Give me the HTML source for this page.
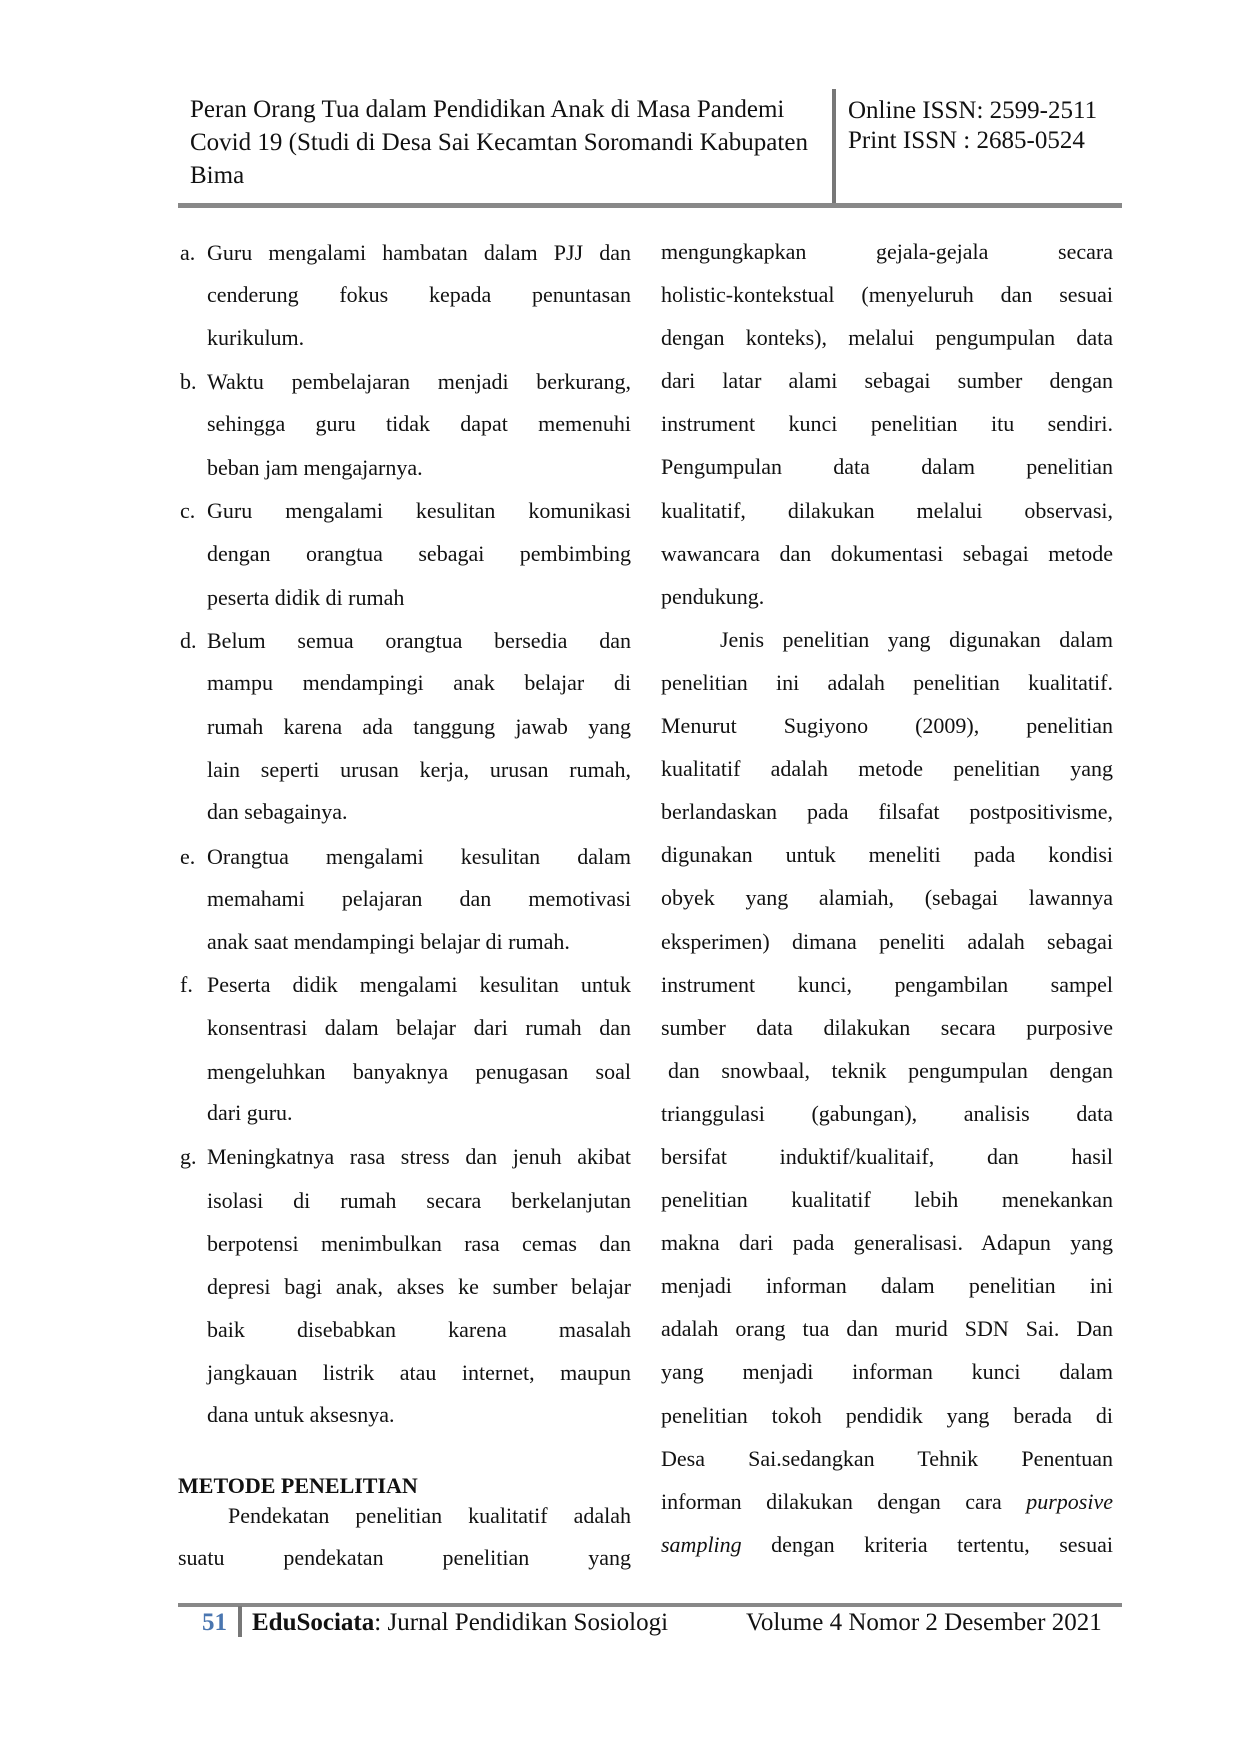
<!DOCTYPE html>
<html><head><meta charset="utf-8"><style>
body{margin:0;background:#fff}
#p{position:relative;width:1240px;height:1754px;overflow:hidden;font-family:"Liberation Serif",serif;color:#111;font-size:22px}
.a{position:absolute;white-space:nowrap}
.h{font-size:25px}
.l{position:absolute;left:207px;width:424px;height:30px;line-height:30px;text-align:justify;text-align-last:justify;white-space:nowrap}
.l.n{text-align-last:left}
.m{position:absolute;left:180px;height:30px;line-height:30px}
#r{position:absolute;left:661px;top:230px;width:452px;line-height:43.1px}
#r div{text-align:justify;text-align-last:justify;white-space:nowrap;height:43.1px}
#r div.n{text-align-last:left}
</style></head><body><div id="p">
<div class="a h" style="left:190px;top:93px;line-height:33px">Peran Orang Tua dalam Pendidikan Anak di Masa Pandemi<br>Covid 19 (Studi di Desa Sai Kecamtan Soromandi Kabupaten<br>Bima</div>
<div class="a h" style="left:848px;top:96px;line-height:30px">Online ISSN: 2599-2511<br>Print ISSN : 2685-0524</div>
<div class="a" style="left:832px;top:89px;width:4px;height:117px;background:#777"></div>
<div class="a" style="left:178px;top:203px;width:944px;height:5px;background:#888"></div>

<div class="m" style="top:238px">a.</div><div class="l" style="top:238px">Guru mengalami hambatan dalam PJJ dan</div>
<div class="l" style="top:280px">cenderung fokus kepada penuntasan</div>
<div class="l n" style="top:323px">kurikulum.</div>
<div class="m" style="top:367px">b.</div><div class="l" style="top:367px">Waktu pembelajaran menjadi berkurang,</div>
<div class="l" style="top:409px">sehingga guru tidak dapat memenuhi</div>
<div class="l n" style="top:453px">beban jam mengajarnya.</div>
<div class="m" style="top:496px">c.</div><div class="l" style="top:496px">Guru mengalami kesulitan komunikasi</div>
<div class="l" style="top:539px">dengan orangtua sebagai pembimbing</div>
<div class="l n" style="top:583px">peserta didik di rumah</div>
<div class="m" style="top:626px">d.</div><div class="l" style="top:626px">Belum semua orangtua bersedia dan</div>
<div class="l" style="top:668px">mampu mendampingi anak belajar di</div>
<div class="l" style="top:712px">rumah karena ada tanggung jawab yang</div>
<div class="l" style="top:755px">lain seperti urusan kerja, urusan rumah,</div>
<div class="l n" style="top:797px">dan sebagainya.</div>
<div class="m" style="top:842px">e.</div><div class="l" style="top:842px">Orangtua mengalami kesulitan dalam</div>
<div class="l" style="top:884px">memahami pelajaran dan memotivasi</div>
<div class="l n" style="top:927px">anak saat mendampingi belajar di rumah.</div>
<div class="m" style="top:970px">f.</div><div class="l" style="top:970px">Peserta didik mengalami kesulitan untuk</div>
<div class="l" style="top:1013px">konsentrasi dalam belajar dari rumah dan</div>
<div class="l" style="top:1057px">mengeluhkan banyaknya penugasan soal</div>
<div class="l n" style="top:1098px">dari guru.</div>
<div class="m" style="top:1142px">g.</div><div class="l" style="top:1142px">Meningkatnya rasa stress dan jenuh akibat</div>
<div class="l" style="top:1186px">isolasi di rumah secara berkelanjutan</div>
<div class="l" style="top:1229px">berpotensi menimbulkan rasa cemas dan</div>
<div class="l" style="top:1272px">depresi bagi anak, akses ke sumber belajar</div>
<div class="l" style="top:1315px">baik disebabkan karena masalah</div>
<div class="l" style="top:1358px">jangkauan listrik atau internet, maupun</div>
<div class="l n" style="top:1400px">dana untuk aksesnya.</div>
<div class="a" style="left:178px;top:1471px;line-height:30px;font-weight:bold">METODE PENELITIAN</div>
<div class="l" style="left:228px;width:403px;top:1501px">Pendekatan penelitian kualitatif adalah</div>
<div class="l" style="left:178px;width:453px;top:1543px">suatu pendekatan penelitian yang</div>

<div id="r">
<div>mengungkapkan gejala-gejala secara</div>
<div>holistic-kontekstual (menyeluruh dan sesuai</div>
<div>dengan konteks), melalui pengumpulan data</div>
<div>dari latar alami sebagai sumber dengan</div>
<div>instrument kunci penelitian itu sendiri.</div>
<div>Pengumpulan data dalam penelitian</div>
<div>kualitatif, dilakukan melalui observasi,</div>
<div>wawancara dan dokumentasi sebagai metode</div>
<div class="n">pendukung.</div>
<div style="padding-left:59px">Jenis penelitian yang digunakan dalam</div>
<div>penelitian ini adalah penelitian kualitatif.</div>
<div>Menurut Sugiyono (2009), penelitian</div>
<div>kualitatif adalah metode penelitian yang</div>
<div>berlandaskan pada filsafat postpositivisme,</div>
<div>digunakan untuk meneliti pada kondisi</div>
<div>obyek yang alamiah, (sebagai lawannya</div>
<div>eksperimen) dimana peneliti adalah sebagai</div>
<div>instrument kunci, pengambilan sampel</div>
<div>sumber data dilakukan secara purposive</div>
<div style="padding-left:7px">dan snowbaal, teknik pengumpulan dengan</div>
<div>trianggulasi (gabungan), analisis data</div>
<div>bersifat induktif/kualitaif, dan hasil</div>
<div>penelitian kualitatif lebih menekankan</div>
<div>makna dari pada generalisasi. Adapun yang</div>
<div>menjadi informan dalam penelitian ini</div>
<div>adalah orang tua dan murid SDN Sai. Dan</div>
<div>yang menjadi informan kunci dalam</div>
<div>penelitian tokoh pendidik yang berada di</div>
<div>Desa Sai.sedangkan Tehnik Penentuan</div>
<div>informan dilakukan dengan cara <i>purposive</i></div>
<div><i>sampling</i> dengan kriteria tertentu, sesuai</div>
</div>

<div class="a" style="left:178px;top:1603px;width:944px;height:4px;background:#888"></div>
<div class="a" style="left:238px;top:1606px;width:4px;height:31px;background:#777"></div>
<div class="a h" style="left:202px;top:1608px;line-height:30px;color:#4a76b0;font-weight:bold">51</div>
<div class="a h" style="left:252px;top:1608px;line-height:30px"><b>EduSociata</b>: Jurnal Pendidikan Sosiologi</div>
<div class="a h" style="left:746px;top:1608px;line-height:30px">Volume 4 Nomor 2 Desember 2021</div>
</div></body></html>
